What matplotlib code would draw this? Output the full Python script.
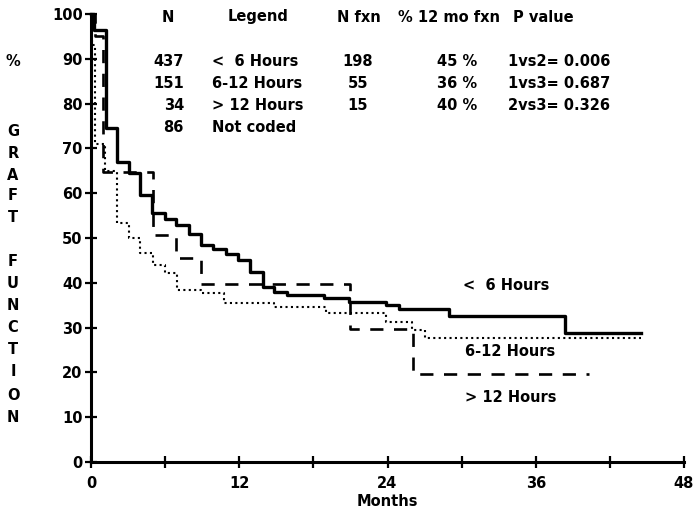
import matplotlib
matplotlib.use("Agg")
import matplotlib.pyplot as plt

# Kaplan-Meier style step data: (month of step, % graft function after step)
t_lt6 = [0, 0.25, 1.2, 2.1, 3.05, 4.0, 4.9, 5.95, 6.9, 7.9, 8.9, 9.9, 10.9, 11.9,
         12.9, 13.9, 14.8, 15.9, 18.9, 20.9, 23.9, 24.9, 29.0, 38.4, 44.5]
v_lt6 = [100, 96.4, 74.6, 67.0, 64.4, 59.6, 55.5, 54.2, 52.9, 51.0, 48.4, 47.5, 46.4, 45.1,
         42.5, 39.1, 38.0, 37.3, 36.5, 35.8, 35.0, 34.2, 32.7, 28.7, 28.7]

t_6to12 = [0, 0.1, 0.35, 1.1, 2.1, 3.05, 4.0, 5.0, 6.0, 7.0, 8.9, 10.8, 14.8, 19.0,
           23.9, 26.0, 27.0, 44.5]
v_6to12 = [100, 93.0, 71.0, 65.0, 53.4, 49.9, 46.6, 44.0, 42.1, 38.4, 37.7, 35.6, 34.5, 33.2,
           31.3, 29.5, 27.6, 27.6]

t_gt12 = [0, 0.3, 1.0, 5.0, 6.9, 8.9, 21.0, 26.1, 40.3]
v_gt12 = [100, 95.0, 64.8, 50.7, 45.6, 39.7, 29.7, 19.6, 19.6]

curve_labels = ["<  6 Hours", "6-12 Hours", "> 12 Hours"]
label_pos = [(30.1, 39.5), (30.3, 24.6), (30.3, 14.5)]

# Summary table
col_heads = ["N", "Legend", "N fxn", "% 12 mo fxn", "P value"]
n_vals = ["437", "151", "34", "86"]
legend_vals = ["<  6 Hours", "6-12 Hours", "> 12 Hours", "Not coded"]
nfxn_vals = ["198", "55", "15"]
pct_vals = ["45 %", "36 %", "40 %"]
p_vals = ["1vs2= 0.006", "1vs3= 0.687", "2vs3= 0.326"]

x_major = [0, 12, 24, 36, 48]
x_minor = [6, 18, 30, 42]
y_ticks = list(range(0, 101, 10))
ylabel_letters = ["%", "G", "R", "A", "F", "T", "F", "U", "N", "C", "T", "I", "O", "N"]
ylabel_rows = [61, 131, 153, 175, 196, 217, 261, 284, 306, 328, 350, 372, 395, 417]

W, H = 696, 519
fig = plt.figure(figsize=(W / 100, H / 100), dpi=100)
ax = fig.add_axes([91 / W, 1 - 462 / H, (684 - 91) / W, (462 - 14) / H])

FONT = dict(family="DejaVu Sans", weight="bold", size=10.5)

ax.step(t_lt6, v_lt6, where="post", color="black", lw=2.4, clip_on=False)
ax.step(t_6to12, v_6to12, where="post", color="black", lw=1.5, ls=(0, (1, 1.6)), clip_on=False)
ax.step(t_gt12, v_gt12, where="post", color="black", lw=1.9, ls=(0, (5, 4)), clip_on=False)

for lab, (x, y) in zip(curve_labels, label_pos):
    ax.text(x, y, lab, ha="left", va="center", **FONT)

ax.set_xlim(0, 48)
ax.set_ylim(0, 100)
for s in ("top", "right"):
    ax.spines[s].set_visible(False)
for s in ("left", "bottom"):
    ax.spines[s].set_linewidth(2.2)

ax.set_xticks(x_major)
ax.set_xticklabels([str(v) for v in x_major], **FONT)
ax.set_xticks(x_minor, minor=True)
ax.set_yticks(y_ticks)
ax.set_yticklabels([str(v) for v in y_ticks], **FONT)
ax.tick_params(axis="both", which="both", direction="inout", length=8, width=1.6, color="black")
ax.tick_params(axis="x", pad=6)
ax.tick_params(axis="y", pad=2)
ax.set_xlabel("Months", labelpad=2, **FONT)


def px(x, y):
    return x / W, 1 - y / H


# Table header
hdr_x = [(168, "center"), (228, "left"), (337, "left"), (398, "left"), (513, "left")]
for (x, ha), txt in zip(hdr_x, col_heads):
    fig.text(*px(x, 17), txt, ha=ha, va="center", **FONT)

rows_y = [61, 84, 106, 128]
for y, n, lg in zip(rows_y, n_vals, legend_vals):
    fig.text(*px(184, y), n, ha="right", va="center", **FONT)
    fig.text(*px(212, y), lg, ha="left", va="center", **FONT)
for y, nf, pc, pv in zip(rows_y, nfxn_vals, pct_vals, p_vals):
    fig.text(*px(358, y), nf, ha="center", va="center", **FONT)
    fig.text(*px(437, y), pc, ha="left", va="center", **FONT)
    fig.text(*px(508, y), pv, ha="left", va="center", **FONT)

# Vertical axis title, one letter per row
for ch, y in zip(ylabel_letters, ylabel_rows):
    fig.text(*px(13, y), ch, ha="center", va="center", **FONT)

fig.savefig("out.png", dpi=100)
